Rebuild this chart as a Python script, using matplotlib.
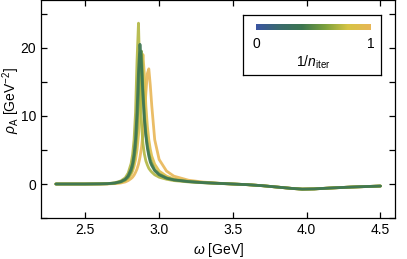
import numpy as np
import matplotlib
matplotlib.use("Agg")
import matplotlib.pyplot as plt
from matplotlib.colors import LinearSegmentedColormap

plt.rcParams['font.family'] = ['Liberation Sans', 'DejaVu Sans']
plt.rcParams['font.size'] = 10
plt.rcParams['mathtext.fontset'] = 'custom'
plt.rcParams['mathtext.rm'] = 'Liberation Sans'
plt.rcParams['mathtext.it'] = 'Liberation Sans:italic'

# frequency grid [GeV]
omega = [2.30, 2.50, 2.60, 2.65, 2.70, 2.74, 2.77, 2.79, 2.81, 2.82,
         2.83, 2.84, 2.85, 2.86, 2.87, 2.88, 2.89, 2.90, 2.91, 2.92,
         2.93, 2.94, 2.95, 2.97, 3.00, 3.05, 3.10, 3.20, 3.30, 3.40,
         3.50, 3.60, 3.70, 3.80, 3.90, 3.97, 4.05, 4.15, 4.30, 4.50]

# spectral functions, one per iteration (value of 1/n_iter)
inv_niter = [1.0, 0.88, 0.72, 0.55, 0.38]

rho_1 = [0.0, 0.0, 0.01, 0.02, 0.06, 0.15, 0.3, 0.5, 0.8, 1.0,
         1.3, 1.7, 2.2, 2.9, 3.9, 5.3, 7.3, 10.0, 13.3, 16.2,
         16.9, 14.5, 11.5, 6.5, 3.6, 1.9, 1.15, 0.55, 0.28, 0.12,
         0.0, -0.1, -0.25, -0.45, -0.65, -0.75, -0.72, -0.6, -0.45, -0.3]
rho_2 = [0.0, 0.0, 0.01, 0.03, 0.1, 0.25, 0.5, 0.8, 1.4, 1.9,
         2.6, 3.6, 5.0, 7.2, 10.5, 15.5, 19.0, 16.0, 11.5, 8.5,
         6.5, 5.1, 4.1, 2.9, 1.9, 1.15, 0.75, 0.4, 0.22, 0.1,
         0.0, -0.1, -0.25, -0.45, -0.65, -0.75, -0.72, -0.6, -0.45, -0.3]
rho_3 = [0.0, 0.0, 0.02, 0.05, 0.18, 0.45, 0.9, 1.6, 3.0, 4.3,
         6.5, 10.5, 18.0, 23.6, 15.0, 9.0, 6.0, 4.4, 3.4, 2.8,
         2.3, 2.0, 1.75, 1.35, 1.0, 0.7, 0.5, 0.3, 0.18, 0.08,
         0.0, -0.1, -0.25, -0.45, -0.65, -0.75, -0.72, -0.6, -0.45, -0.3]
rho_4 = [0.0, 0.0, 0.02, 0.04, 0.13, 0.3, 0.6, 1.0, 1.8, 2.5,
         3.6, 5.3, 8.2, 13.0, 19.0, 19.5, 14.0, 10.0, 7.4, 5.7,
         4.5, 3.6, 3.0, 2.1, 1.45, 0.9, 0.62, 0.36, 0.2, 0.1,
         0.0, -0.1, -0.25, -0.45, -0.65, -0.75, -0.72, -0.6, -0.45, -0.3]
rho_5 = [0.0, 0.0, 0.02, 0.05, 0.15, 0.35, 0.7, 1.2, 2.2, 3.0,
         4.4, 6.5, 10.5, 16.5, 20.5, 17.5, 13.0, 9.5, 7.0, 5.3,
         4.1, 3.2, 2.7, 1.95, 1.35, 0.85, 0.6, 0.35, 0.2, 0.1,
         0.0, -0.1, -0.25, -0.45, -0.65, -0.75, -0.72, -0.6, -0.45, -0.3]
curves = [rho_1, rho_2, rho_3, rho_4, rho_5]

cmap = LinearSegmentedColormap.from_list(
    'iter', ['#3a54a2', '#3a6a6e', '#3c7650', '#7aa03c', '#d6c444', '#e8b656'])

fig = plt.figure(figsize=(4.07, 2.59), dpi=100)
ax = fig.add_axes([0.101, 0.158, 0.870, 0.842])

for t, rho in zip(inv_niter, curves):
    ax.plot(omega, rho, color=cmap(t), lw=2.0, alpha=0.9, solid_capstyle='round')

ax.set_xlim(2.2, 4.6)
ax.set_ylim(-5, 27)
ax.set_xticks([2.5, 3.0, 3.5, 4.0, 4.5])
ax.set_yticks([-5, 0, 5, 10, 15, 20, 25])
ax.set_yticklabels(['', '0', '', '10', '', '20', ''])
ax.tick_params(direction='in', top=True, right=True, length=4, width=0.9)
for s in ax.spines.values():
    s.set_linewidth(0.9)
ax.set_xlabel(r'$\omega$ [GeV]', labelpad=3)
ax.set_ylabel(r'$\rho_{\rm A}$ [GeV$^{-2}$]')
ax.yaxis.set_label_coords(-0.055, 0.54)

# colorbar inset
W, H = 407.0, 259.0
box = fig.add_axes([243 / W, 1 - 75 / H, 138 / W, 60 / H])
box.set_xticks([])
box.set_yticks([])
for s in box.spines.values():
    s.set_linewidth(0.9)
cax = fig.add_axes([256 / W, 1 - 30 / H, 115 / W, 6 / H])
grad = np.linspace(0, 1, 256).reshape(1, -1)
cax.imshow(grad, aspect='auto', cmap=cmap, extent=[0, 1, 0, 1])
cax.set_axis_off()
fig.text(256 / W, 1 - 44 / H, '0', ha='center', va='center')
fig.text(371 / W, 1 - 44 / H, '1', ha='center', va='center')
fig.text(313 / W, 1 - 62 / H, r'$1/n_{\rm iter}$', ha='center', va='center')

fig.savefig('out.png', dpi=100)
